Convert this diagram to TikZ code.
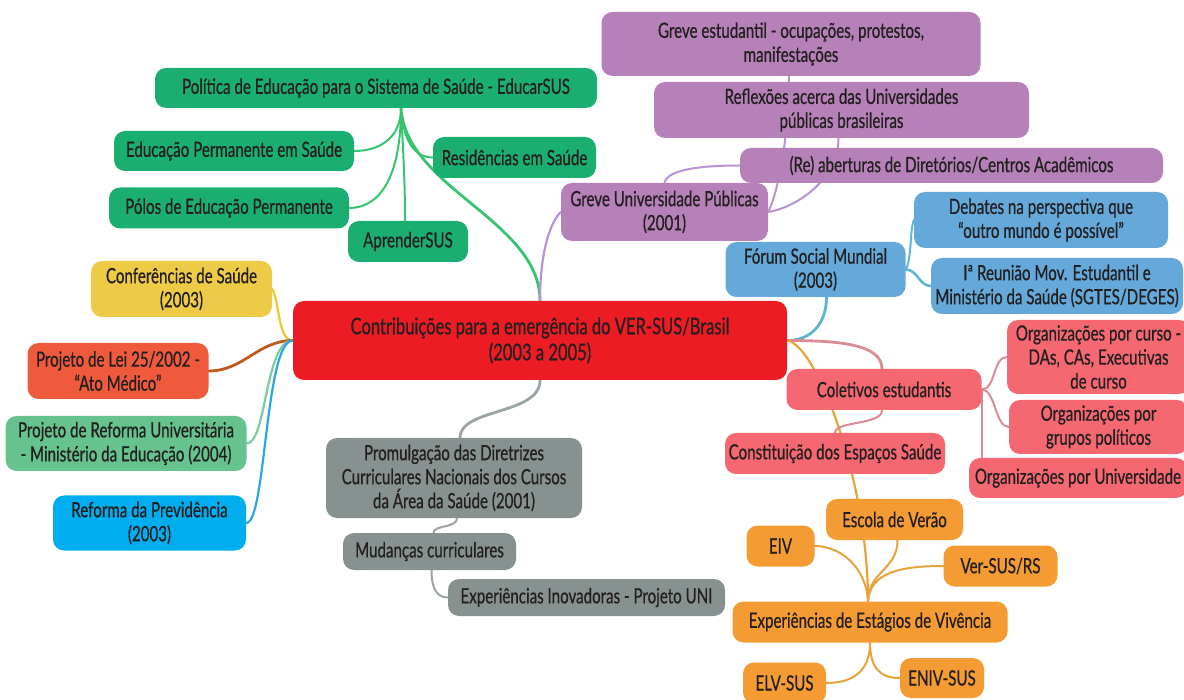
\documentclass[tikz,border=0pt]{standalone}
\usepackage{fontspec}
\setmainfont{Lato}[FakeStretch=0.72, FakeBold=0.6]
\definecolor{txt}{HTML}{231F20}
\definecolor{cGreen}{HTML}{1AAF70}
\definecolor{cGreenL}{HTML}{36C46F}
\definecolor{cPurple}{HTML}{B581B8}
\definecolor{cPurpleL}{HTML}{B892D6}
\definecolor{cBlue}{HTML}{64A9DA}
\definecolor{cBlueL}{HTML}{5BB5D5}
\definecolor{cYellow}{HTML}{EECB47}
\definecolor{cYellowL}{HTML}{EFC62C}
\definecolor{cLei}{HTML}{EF5A3D}
\definecolor{cLeiL}{HTML}{C05A1C}
\definecolor{cRef}{HTML}{66C38E}
\definecolor{cRefL}{HTML}{7DCBA0}
\definecolor{cPrev}{HTML}{00AEEF}
\definecolor{cPrevL}{HTML}{2AA7E0}
\definecolor{cRed}{HTML}{ED1C24}
\definecolor{cGray}{HTML}{879290}
\definecolor{cGrayL}{HTML}{9AA4A3}
\definecolor{cPink}{HTML}{F56872}
\definecolor{cPinkL}{HTML}{D98C94}
\definecolor{cOrange}{HTML}{F59B33}
\definecolor{cOrangeL}{HTML}{E6A33A}
\pgfdeclarelayer{bg}
\pgfsetlayers{bg,main}
\tikzset{
  box/.style={rounded corners=11pt, inner sep=0pt, align=center, text=txt,
    font=\fontsize{21}{24}\selectfont},
  gbox/.style={box, fill=cGreen},
  pbox/.style={box, fill=cPurple},
  bbox/.style={box, fill=cBlue},
  ybox/.style={box, fill=cYellow},
  lbox/.style={box, fill=cLei},
  rbox/.style={box, fill=cRef},
  vbox/.style={box, fill=cPrev},
  cbox/.style={box, fill=cRed, font=\fontsize{23}{26}\selectfont},
  kbox/.style={box, fill=cGray},
  nbox/.style={box, fill=cPink},
  obox/.style={box, fill=cOrange},
  mainconn/.style={line width=2.8pt, line cap=round},
  subconn/.style={line width=2pt, line cap=round},
}
\begin{document}
\begin{tikzpicture}[x=1pt,y=-1pt]
\useasboundingbox (0,0) rectangle (1184,700);
\clip (0,0) rectangle (1184,700);
% green
\node[gbox,minimum width=442pt,minimum height=40pt] (educar) at (376,88) {Política de Educação para o Sistema de Saúde - EducarSUS};
\node[gbox,minimum width=240pt,minimum height=40pt] (edperm) at (234,151) {Educação Permanente em Saúde};
\node[gbox,minimum width=163pt,minimum height=41pt] (resid) at (514.5,157.5) {Residências em Saúde};
\node[gbox,minimum width=240pt,minimum height=41pt] (polos) at (229,208) {Pólos de Educação Permanente};
\node[gbox,minimum width=120pt,minimum height=41pt] (aprender) at (408,241.5) {AprenderSUS};
% purple
\node[pbox,minimum width=379pt,minimum height=64pt] (greveEst) at (791,44) {Greve estudantil - ocupações, protestos,\\manifestações};
\node[pbox,minimum width=375pt,minimum height=56pt] (reflex) at (841.5,110) {Reflexões acerca das Universidades\\públicas brasileiras};
\node[pbox,minimum width=423pt,minimum height=35pt] (reab) at (951.5,165.5) {(Re) aberturas de Diretórios/Centros Acadêmicos};
\node[pbox,minimum width=207pt,minimum height=58pt] (greveUni) at (664.5,212) {Greve Universidade Públicas\\(2001)};
% blue
\node[bbox,minimum width=254pt,minimum height=56pt] (debates) at (1041,220) {Debates na perspectiva que\\“outro mundo é possível”};
\node[bbox,minimum width=180pt,minimum height=55pt] (forum) at (815.5,269.5) {Fórum Social Mundial\\(2003)};
\node[bbox,minimum width=252pt,minimum height=56pt] (reuniao) at (1057,286) {Iª Reunião Mov. Estudantil e\\Ministério da Saúde (SGTES/DEGES)};
% left
\node[ybox,minimum width=181pt,minimum height=56pt] (confer) at (181.5,289) {Conferências de Saúde\\(2003)};
\node[lbox,minimum width=181pt,minimum height=56pt] (lei) at (118,371) {Projeto de Lei 25/2002 -\\“Ato Médico”};
\node[rbox,minimum width=241pt,minimum height=55pt] (reforma) at (126,443.5) {Projeto de Reforma Universitária\\- Ministério da Educação (2004)};
\node[vbox,minimum width=193pt,minimum height=55pt] (previd) at (149.5,523) {Reforma da Previdência\\(2003)};
% central
\node[cbox,minimum width=494pt,minimum height=79pt] (central) at (540,340.5) {Contribuições para a emergência do VER-SUS/Brasil\\(2003 a 2005)};
% pink
\node[nbox,minimum width=183pt,minimum height=74pt] (orgCurso) at (1098.5,357) {Organizações por curso -\\DAs, CAs, Executivas\\de curso};
\node[nbox,minimum width=195pt,minimum height=41pt] (colet) at (884,389.5) {Coletivos estudantis};
\node[nbox,minimum width=179pt,minimum height=54pt] (orgGrupo) at (1098.5,427) {Organizações por\\grupos políticos};
\node[nbox,minimum width=220pt,minimum height=41pt] (constit) at (835,453.5) {Constituição dos Espaços Saúde};
\node[nbox,minimum width=218pt,minimum height=40pt] (orgUni) at (1078,478) {Organizações por Universidade};
% gray
\node[kbox,minimum width=256pt,minimum height=80pt] (promul) at (454,478) {Promulgação das Diretrizes\\Curriculares Nacionais dos Cursos\\da Área da Saúde (2001)};
\node[kbox,minimum width=173pt,minimum height=37pt] (mudan) at (429.5,551.5) {Mudanças curriculares};
\node[kbox,minimum width=277pt,minimum height=37pt] (inov) at (586.5,597.5) {Experiências Inovadoras - Projeto UNI};
% orange
\node[obox,minimum width=137pt,minimum height=41pt] (escola) at (894.5,519.5) {Escola de Verão};
\node[obox,minimum width=68pt,minimum height=41pt] (eiv) at (780.5,546) {EIV};
\node[obox,minimum width=114pt,minimum height=41pt] (versus) at (1000.5,566) {Ver-SUS/RS};
\node[obox,minimum width=275pt,minimum height=41pt] (estag) at (870,622) {Experiências de Estágios de Vivência};
\node[obox,minimum width=83pt,minimum height=41pt] (elv) at (784.5,683) {ELV-SUS};
\node[obox,minimum width=84pt,minimum height=40pt] (eniv) at (942,678) {ENIV-SUS};

\begin{pgfonlayer}{bg}
% main branches
\draw[mainconn,cGreenL] (central.north) .. controls +(0,-80) and +(5,80) .. ([xshift=25pt]educar.south);
\draw[mainconn,cPurpleL,line width=2.2pt] (central.north) .. controls +(0,-45) and +(-12,12) .. (greveUni.west);
\draw[mainconn,cGrayL] (central.south) .. controls +(0,35) and +(0,-30) .. ([xshift=6pt]promul.north);
\draw[mainconn,cYellowL,line width=2.2pt] (central.west) .. controls +(-15,0) and +(8,15) .. (confer.east);
\draw[mainconn,cLeiL] (central.west) .. controls +(-35,0) and +(35,0) .. (lei.east);
\draw[mainconn,cRefL,line width=2.2pt] (central.west) .. controls +(-28,0) and +(20,0) .. (reforma.east);
\draw[mainconn,cPrevL,line width=2.2pt] (central.west) .. controls +(-28,0) and +(20,0) .. (previd.east);
\draw[mainconn,cBlueL] (central.east) .. controls +(25,0) and +(0,25) .. ([xshift=11pt]forum.south);
\draw[mainconn,cPinkL] (central.east) .. controls +(50,0) and +(0,-25) .. ([xshift=-2pt]colet.north);
\draw[mainconn,cOrangeL,line width=2.2pt] (central.east) .. controls +(30,5) and +(0,-120) .. ([xshift=-2pt]estag.north);
% green subs
\draw[subconn,cGreenL] ([xshift=25pt]educar.south) .. controls +(0,30) and +(25,0) .. (edperm.east);
\draw[subconn,cGreenL] ([xshift=25pt]educar.south) .. controls +(0,70) and +(30,0) .. (polos.east);
\draw[subconn,cGreenL] ([xshift=25pt]educar.south) .. controls +(2,40) and +(0,-40) .. ([xshift=-3pt]aprender.north);
\draw[subconn,cGreenL] ([xshift=25pt]educar.south) .. controls +(2,30) and +(-20,0) .. (resid.west);
% purple subs
\draw[subconn,cPurpleL] (greveUni.north) .. controls +(3,-15) and +(-30,0) .. (reab.west);
\draw[subconn,cPurpleL] (greveUni.east) .. controls +(30,-5) and +(0,40) .. ([xshift=-3pt]reflex.south);
\draw[subconn,cPurpleL] (greveUni.east) .. controls +(10,-20) and +(0,60) .. ([xshift=-2pt]greveEst.south);
% blue subs
\draw[subconn,cBlueL] (forum.east) .. controls +(6,-10) and +(-4,10) .. (debates.west);
\draw[subconn,cBlueL,line width=2.5pt] (forum.east) .. controls +(12,0) and +(-12,0) .. (reuniao.west);
% pink subs
\draw[subconn,cPinkL] (colet.east) .. controls +(14,0) and +(-14,0) .. (orgCurso.west);
\draw[subconn,cPinkL] (colet.east) .. controls +(14,0) and +(-14,0) .. (orgGrupo.west);
\draw[subconn,cPinkL] (colet.east) -- (colet.east |- orgUni.north);
\draw[subconn,cPinkL] ([xshift=-2pt]colet.south) .. controls +(0,15) and +(0,-12) .. (constit.north);
% orange subs
\draw[subconn,cOrangeL] ([xshift=-2pt]estag.north) .. controls +(0,-30) and +(0,30) .. ([xshift=3pt]escola.south);
\draw[subconn,cOrangeL] ([xshift=-2pt]estag.north) .. controls +(-2,-35) and +(25,0) .. (eiv.east);
\draw[subconn,cOrangeL] ([xshift=-2pt]estag.north) .. controls +(2,-30) and +(-40,0) .. (versus.west);
\draw[subconn,cOrangeL] (estag.south) .. controls +(0,30) and +(25,0) .. (elv.east);
\draw[subconn,cOrangeL] (estag.south) .. controls +(0,25) and +(-20,0) .. (eniv.west);
% gray subs
\draw[subconn,cGrayL] ([xshift=3pt]promul.south) .. controls +(0,10) and +(0,-8) .. ([xshift=4pt]mudan.north);
\draw[subconn,cGrayL] ([xshift=2pt]mudan.south) .. controls +(0,20) and +(-10,0) .. (inov.west);
\end{pgfonlayer}
\end{tikzpicture}
\end{document}
